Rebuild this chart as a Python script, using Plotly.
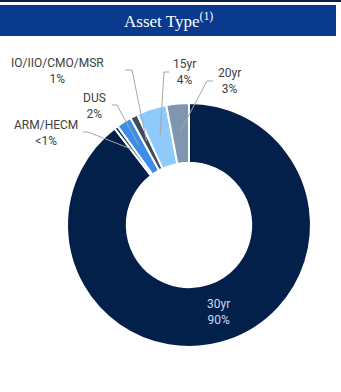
import math
import plotly.graph_objects as go

# Portfolio breakdown by asset type
labels = ["30yr", "ARM/HECM", "DUS", "IO/IIO/CMO/MSR", "15yr", "20yr"]
values = [90, 0.5, 2, 1, 4, 3]
pct_text = ["90%", "<1%", "2%", "1%", "4%", "3%"]
colors = ["#03204a", "#0b2c66", "#3a8ee8", "#3c4a5e", "#8fcbfa", "#8095af"]

W, H = 341, 392
CX, CY, R_OUT, HOLE = 189, 225, 122, 0.51


def px(x, y):
    """Pixel position -> paper coordinates."""
    return x / W, 1 - y / H


def slice_point(i, r):
    """Pixel point at radius r on the mid-angle of slice i (clockwise from 12 o'clock)."""
    total = sum(values)
    start = sum(values[:i]) / total * 360
    mid = math.radians(start + values[i] / total * 180)
    return CX + r * math.sin(mid), CY - r * math.cos(mid)


fig = go.Figure(go.Pie(
    labels=labels,
    values=values,
    hole=HOLE,
    sort=False,
    direction="clockwise",
    rotation=0,
    textinfo="none",
    marker=dict(colors=colors, line=dict(color="white", width=2)),
    domain=dict(x=[(CX - R_OUT) / W, (CX + R_OUT) / W],
                y=[1 - (CY + R_OUT) / H, 1 - (CY - R_OUT) / H]),
    showlegend=False,
    hoverinfo="label+text",
    hovertext=pct_text,
))

shapes = [
    # header rule and title band
    dict(type="rect", xref="paper", yref="paper", x0=0, x1=1,
         y0=1 - 2 / H, y1=1, fillcolor="#0b1f45", line_width=0, layer="below"),
    dict(type="rect", xref="paper", yref="paper", x0=0, x1=336 / W,
         y0=1 - 36 / H, y1=1 - 5 / H, fillcolor="#0a3a8e", line_width=0, layer="below"),
]

annotations = [
    dict(text="Asset Type<sup>(1)</sup>", x=168 / W, y=1 - 20 / H, xref="paper", yref="paper",
         showarrow=False, font=dict(family="Liberation Serif", size=17, color="white"),
         xanchor="center", yanchor="middle"),
]

# outside labels: (slice index, label centre, leader stub start, stub end)
outside = [
    (3, (57, 71), (125, 70), (132, 70)),
    (4, (184, 72), (169, 72), (164, 72)),
    (5, (230, 81), (213, 81), (207, 81)),
    (2, (95, 106), (112, 105), (117, 105)),
    (1, (46, 133), (83, 132), (88, 132)),
]
label_font = dict(family="Roboto", size=12, color="#404040")

for i, (tx, ty), s0, s1 in outside:
    ex, ey = slice_point(i, 94)
    pts = [s0, s1, (ex, ey)]
    for (ax, ay), (bx, by) in zip(pts[:-1], pts[1:]):
        x0, y0 = px(ax, ay)
        x1, y1 = px(bx, by)
        shapes.append(dict(type="line", xref="paper", yref="paper",
                           x0=x0, y0=y0, x1=x1, y1=y1,
                           line=dict(color="#a6a6a6", width=1)))
    ax_, ay_ = px(tx, ty)
    annotations.append(dict(text=f"{labels[i]}<br>{pct_text[i]}", x=ax_, y=ay_,
                            xref="paper", yref="paper", showarrow=False,
                            font=label_font, xanchor="center", yanchor="middle",
                            align="center"))

# inside label for the dominant slice
ix, iy = slice_point(0, 92)
ax_, ay_ = px(ix, iy)
annotations.append(dict(text=f"{labels[0]}<br>{pct_text[0]}", x=ax_, y=ay_,
                        xref="paper", yref="paper", showarrow=False,
                        font=dict(family="Roboto", size=12, color="#c9dbf2"),
                        xanchor="center", yanchor="middle", align="center"))

fig.update_layout(
    width=W, height=H,
    margin=dict(l=0, r=0, t=0, b=0),
    paper_bgcolor="white",
    plot_bgcolor="white",
    shapes=shapes,
    annotations=annotations,
)

fig.write_html("out.html")
